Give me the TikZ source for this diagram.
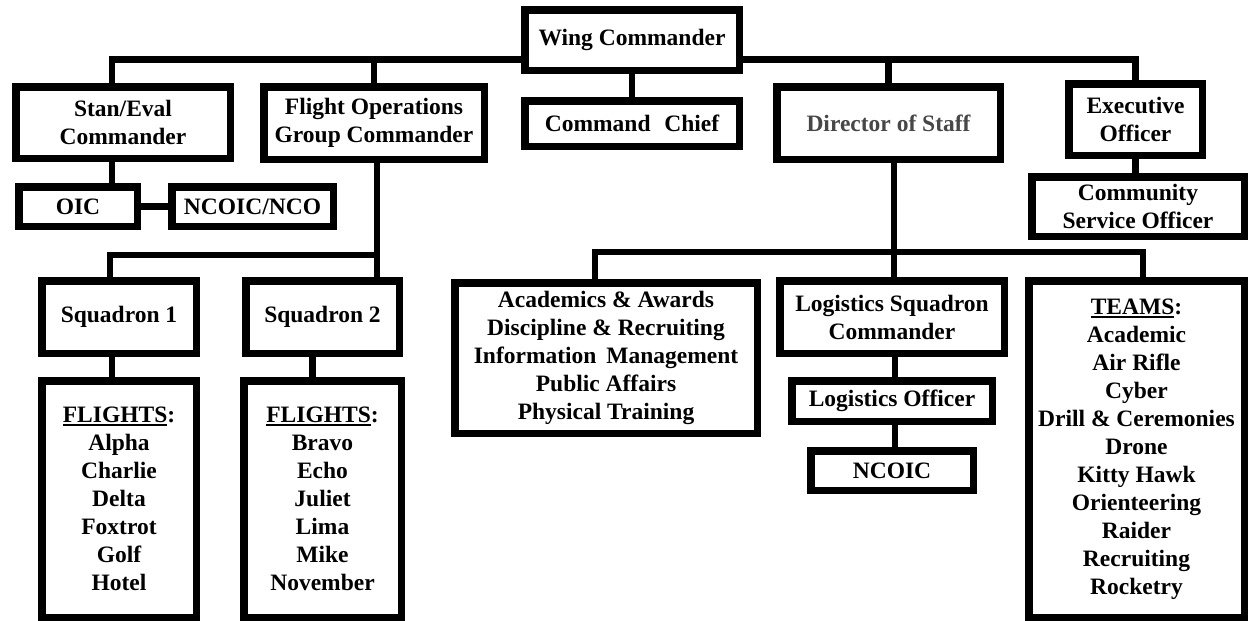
\documentclass[tikz,border=0pt]{standalone}
\usepackage{fontspec}
\setmainfont{Liberation Serif}
\usetikzlibrary{backgrounds}
\newcommand\myul[1]{\setbox0\hbox{#1}\rlap{\rule[-3.5pt]{\wd0}{1.8pt}}\box0}
\begin{document}
\begin{tikzpicture}[x=1pt,y=-1pt,
  box/.style={draw, line width=7.5pt, fill=white, inner sep=0pt, align=center,
    font=\fontsize{23.5}{28}\selectfont\bfseries},
  conn/.style={line width=6.5pt, line join=miter}]
\useasboundingbox (0,0) rectangle (1248,621);
% top level
\node[box, minimum width=214.5pt, minimum height=60.5pt] (wing) at (632,40) {Wing Commander};
\node[box, minimum width=214.5pt, minimum height=45.5pt] (chief) at (632,123.5) {Command\,\, Chief};
\node[box, minimum width=214.5pt, minimum height=71.5pt] (stan) at (123,122.5) {Stan/Eval\\Commander};
\node[box, minimum width=220.5pt, minimum height=72.5pt] (flight) at (374,123) {Flight Operations\\Group Commander};
\node[box, minimum width=223.5pt, minimum height=72.5pt, text=black!72] (dos) at (888.5,123) {Director of Staff};
\node[box, minimum width=133.5pt, minimum height=71.5pt] (exec) at (1135.5,119.5) {Executive\\Officer};
\node[box, minimum width=212.5pt, minimum height=59.5pt] (cso) at (1138,206.5) {Community\\Service Officer};
% stan/eval
\node[box, minimum width=118.5pt, minimum height=39.5pt] (oic) at (78,206.5) {OIC};
\node[box, minimum width=161.5pt, minimum height=39.5pt] (nco) at (252.5,206.5) {NCOIC/NCO};
% squadrons
\node[box, minimum width=154.5pt, minimum height=72.5pt] (sq1) at (119,317) {Squadron 1};
\node[box, minimum width=153.5pt, minimum height=72.5pt] (sq2) at (322.5,317) {Squadron 2};
\node[box, minimum width=154.5pt, minimum height=236.5pt] (fl1) at (119,499)
  {\myul{FLIGHTS}:\\Alpha\\Charlie\\Delta\\Foxtrot\\Golf\\Hotel};
\node[box, minimum width=157.5pt, minimum height=236.5pt] (fl2) at (322.5,499)
  {\myul{FLIGHTS}:\\Bravo\\Echo\\Juliet\\Lima\\Mike\\November};
% director of staff
\node[box, minimum width=302.5pt, minimum height=150.5pt] (acad) at (606,358)
  {Academics \& Awards\\Discipline \& Recruiting\\Information\, Management\\Public Affairs\\Physical Training};
\node[box, minimum width=224.5pt, minimum height=72.5pt] (lsc) at (892,317) {Logistics Squadron\\Commander};
\node[box, minimum width=200.5pt, minimum height=40.5pt] (lo) at (892,401) {Logistics Officer};
\node[box, minimum width=162.5pt, minimum height=39.5pt] (ncoic) at (892,470.5) {NCOIC};
\node[box, minimum width=215.5pt, minimum height=336.5pt] (teams) at (1136.5,449)
  {\myul{TEAMS}:\\Academic\\Air Rifle\\Cyber\\Drill \& Ceremonies\\Drone\\Kitty Hawk\\Orienteering\\Raider\\Recruiting\\Rocketry};
% connectors
\coordinate (busT) at (632,59.5);
\coordinate (busF) at (377,255);
\coordinate (busD) at (894,252);
\begin{scope}[on background layer]
\draw[conn] ([xshift=-11pt]stan.north) |- (busT) -| (exec.north);
\draw[conn] (busT -| flight.north) -- (flight.north);
\draw[conn] (busT -| dos.north) -- (dos.north);
\draw[conn] (wing) -- (chief);
\draw[conn] (exec.south) -- (exec.south |- cso.north);
\draw[conn] ([xshift=-11pt]stan.south) -- ([xshift=-11pt]stan.south |- oic.north);
\draw[conn] (oic) -- (nco);
\draw[conn] ([xshift=3pt]flight.south) -- ([xshift=3pt]flight.south |- sq2.north);
\draw[conn] (busF) -| ([xshift=-9pt]sq1.north);
\draw[conn] ([xshift=-7pt]sq1.south) -- ([xshift=-7pt]sq1.south |- fl1.north);
\draw[conn] ([xshift=-10pt]sq2.south) -- ([xshift=-10pt]sq2.south |- fl2.north);
\draw[conn] ([xshift=5.5pt]dos.south) -- ([xshift=5.5pt]dos.south |- lsc.north);
\draw[conn] ([xshift=-11pt]acad.north) |- (busD) -| ([xshift=6.5pt]teams.north);
\draw[conn] ([xshift=3pt]lsc.south) -- ([xshift=3pt]lsc.south |- lo.north);
\draw[conn] ([xshift=3pt]lo.south) -- ([xshift=3pt]lo.south |- ncoic.north);
\end{scope}
\end{tikzpicture}
\end{document}
